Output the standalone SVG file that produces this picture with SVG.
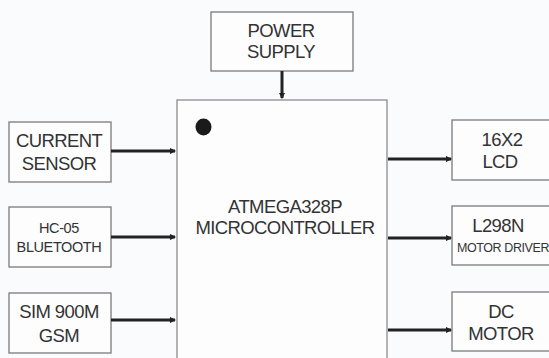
<svg xmlns="http://www.w3.org/2000/svg" width="549" height="358" viewBox="0 0 549 358">
<style>
.box{fill:#fdfdfe;stroke:#7a7a7a;stroke-width:1.3}
.mcu{fill:#fdfdfe;stroke:#9a9a9a;stroke-width:1.5}
.t{font-family:"Liberation Sans",Arial,sans-serif;font-size:18.5px;letter-spacing:-0.6px;fill:#333;text-anchor:middle}
.s{font-size:14.5px;letter-spacing:-0.4px}
.xs{font-size:12.5px;letter-spacing:-0.4px}
.c{stroke:#222;stroke-width:3;fill:none;marker-end:url(#ah)}
</style>
<defs>
<marker id="ah" viewBox="0 0 6 6" refX="5" refY="3" markerWidth="2.2" markerHeight="2.2" orient="auto" markerUnits="strokeWidth">
<path d="M0,0 L6,3 L0,6 z" fill="#222"/>
</marker>
</defs>
<rect width="549" height="358" fill="#fafbfd"/>
<g id="mcu">
<rect class="mcu" x="177" y="100" width="210" height="270"/>
<ellipse cx="203.5" cy="127" rx="8" ry="8.5" fill="#1a1a1a"/>
<text class="t" x="285" y="213">ATMEGA328P</text>
<text class="t" x="285" y="234">MICROCONTROLLER</text>
</g>
<g id="power">
<rect class="box" x="211" y="12" width="142" height="59"/>
<text class="t" x="281" y="37">POWER</text>
<text class="t" x="281" y="58">SUPPLY</text>
</g>
<g id="current">
<rect class="box" x="9" y="122" width="102" height="60"/>
<text class="t" x="59" y="147">CURRENT</text>
<text class="t" x="59" y="170">SENSOR</text>
</g>
<g id="bluetooth">
<rect class="box" x="9" y="207" width="102" height="60"/>
<text class="t s" x="59" y="233">HC-05</text>
<text class="t s" x="59" y="252">BLUETOOTH</text>
</g>
<g id="gsm">
<rect class="box" x="9" y="293" width="102" height="60"/>
<text class="t" x="59" y="318">SIM 900M</text>
<text class="t" x="59" y="342">GSM</text>
</g>
<g id="lcd">
<rect class="box" x="452" y="120" width="102" height="60"/>
<text class="t" x="502" y="146">16X2</text>
<text class="t" x="500" y="168">LCD</text>
</g>
<g id="driver">
<rect class="box" x="452" y="206" width="102" height="59"/>
<text class="t" x="498" y="232">L298N</text>
<text class="t xs" x="503" y="252">MOTOR DRIVER</text>
</g>
<g id="motor">
<rect class="box" x="452" y="292" width="102" height="59"/>
<text class="t" x="501" y="318">DC</text>
<text class="t" x="501" y="340">MOTOR</text>
</g>
<g id="connectors">
<line class="c" x1="282" y1="71" x2="282" y2="98"/>
<line class="c" x1="111" y1="151" x2="175" y2="151"/>
<line class="c" x1="111" y1="237" x2="175" y2="237"/>
<line class="c" x1="111" y1="320" x2="175" y2="320"/>
<line class="c" x1="388" y1="159" x2="451" y2="159"/>
<line class="c" x1="388" y1="238" x2="451" y2="238"/>
<line class="c" x1="388" y1="330" x2="451" y2="330"/>
</g>
</svg>
